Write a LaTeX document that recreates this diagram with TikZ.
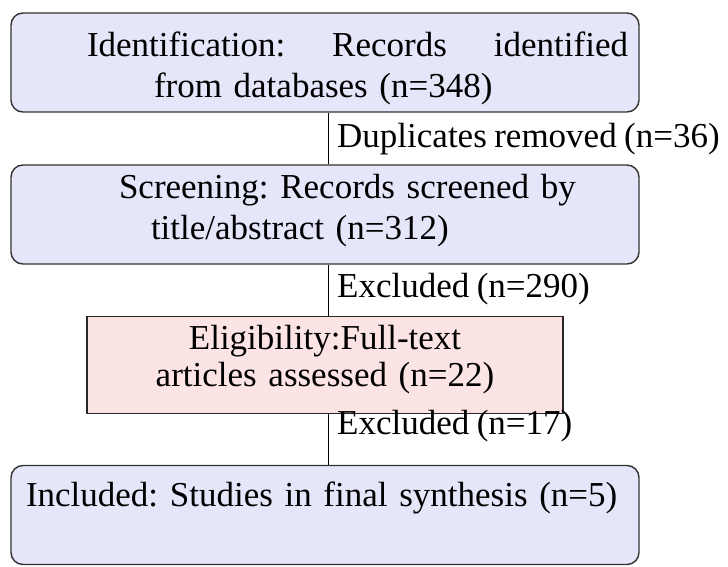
\documentclass[tikz,border=0pt]{standalone}
\usepackage{fontspec}
\setmainfont[WordSpace=0.85]{Liberation Serif}
\usepackage{xcolor}

\definecolor{stageblue}{RGB}{230,230,250}
\definecolor{stagepink}{RGB}{253,228,228}

\begin{document}
\begin{tikzpicture}[x=1pt, y=-1pt,
        stagebox/.style={draw=black!80, line width=1.4pt, rounded corners=12pt, fill=stageblue,
            minimum width=628pt, minimum height=99pt, inner sep=0pt, text width=606pt, align=left,
            font=\fontsize{35}{41}\selectfont\frenchspacing},
        eligbox/.style={draw=black!85, line width=1.4pt, fill=stagepink,
            minimum width=476pt, minimum height=97pt, inner sep=0pt, text width=460pt, align=center,
            font=\fontsize{35}{37}\selectfont\frenchspacing},
        countlabel/.style={anchor=west, inner sep=0pt, font=\fontsize{35}{38}\selectfont}]

        \useasboundingbox (0,0) rectangle (728,567);

        % Stages of the selection
        \node[stagebox] (ident) at (325,62.5)
            {\rule{0pt}{36pt}\hspace*{65pt}Identification:\hfill Records\hfill identified\\
             \hspace*{132pt}from databases (n=348)};
        \node[stagebox] (screen) at (325,214.5)
            {\hspace*{97pt}Screening: Records screened by\\
             \hspace*{129pt}title/abstract (n=312)\rule[-16pt]{0pt}{1pt}};
        \node[eligbox] (elig) at (325,365)
            {Eligibility:Full-text\\ articles assessed (n=22)\rule[-19pt]{0pt}{1pt}};
        \node[stagebox] (incl) at (325,515)
            {\hspace*{4pt}Included: Studies in final synthesis (n=5)\\ \mbox{}};

        % Connectors
        \draw[line width=1pt] ([xshift=3pt]ident.south) -- ([xshift=3pt]screen.north);
        \draw[line width=1pt] ([xshift=3pt]screen.south) -- ([xshift=3pt]elig.north);
        \draw[line width=1pt] ([xshift=3pt]elig.south) -- ([xshift=3pt]incl.north);

        % Counts beside the connectors
        \node[countlabel] (dup) at (337,139) {Duplicates removed (n=36)};
        \node[countlabel] (excl1) at (337,289) {Excluded (n=290)};
        \node[countlabel] (excl2) at (337,426) {Excluded (n=17)};
    \end{tikzpicture}
\end{document}
